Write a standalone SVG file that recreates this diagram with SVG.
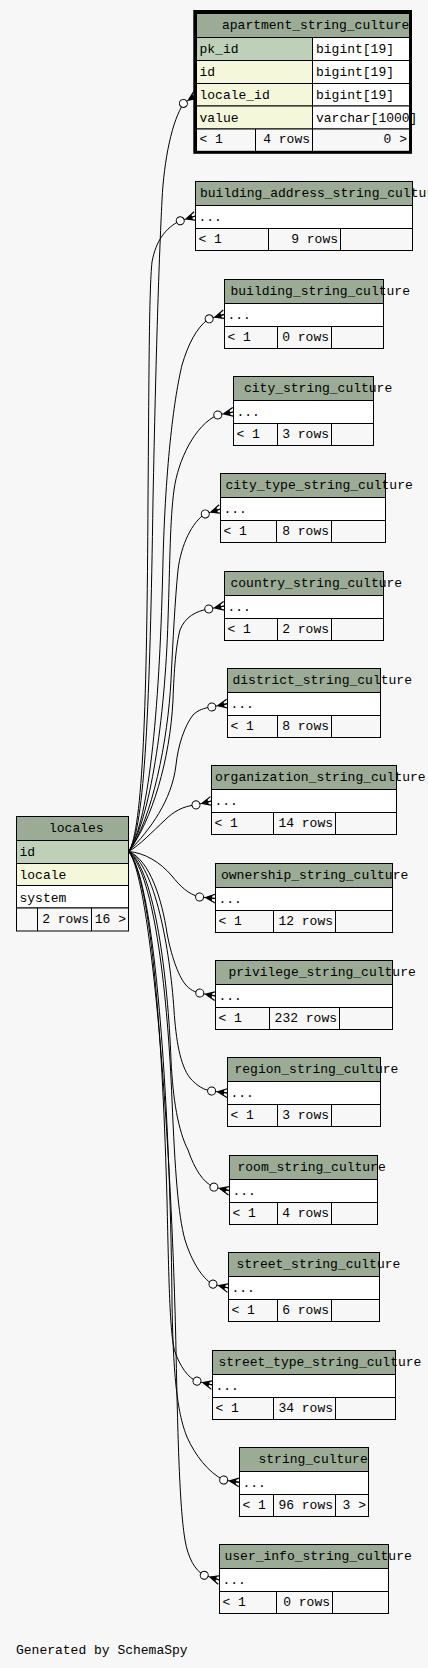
<svg xmlns="http://www.w3.org/2000/svg" width="428" height="1668" viewBox="0 0 428 1668">
<style>
.t{font-family:"Liberation Mono","DejaVu Sans Mono",monospace;font-size:13px;fill:#000}
.e{text-anchor:end}
.c{stroke:#000;stroke-width:1}
.hd{fill:#9bab96}
.pk{fill:#bed1b8}
.ix{fill:#f4f7da}
.wh{fill:#fff}
.ft{fill:#f7f7f7}
.ln{stroke:#000;stroke-width:1}
.edge{fill:none;stroke:#000;stroke-width:1;marker-end:url(#crowodot)}
</style>
<defs>
<marker id="crowodot" markerUnits="userSpaceOnUse" markerWidth="24" markerHeight="12" viewBox="-22 -6 24 12" refX="0" refY="0" orient="auto" overflow="visible">
<path d="M-10,0 L0,-4.5 M-10,0 L0,0 M-10,0 L0,4.5" stroke="#000" stroke-width="1.2" fill="none"/>
<path d="M-10,0 L-3.5,-3 L-3.5,3 Z" fill="#000"/>
<circle cx="-16" cy="0" r="4" fill="#fff" stroke="#000"/>
</marker>
</defs>
<rect x="0" y="0" width="428" height="1668" fill="#f7f7f7"/>

<g id="connectors">
<path class="edge" d="M128.7,851.5 C145,830 150,700 153,500 C156,350 159,260 162,200 C164,160 172,120 184,103 L196.7,94.5"/>
<path class="edge" d="M128.7,851.5 C143,830 147,700 148,500 C149,380 149,290 152,262 C156,240 166,228 179.5,221 L195.5,216"/>
<path class="edge" d="M128.7,851.5 C150,820 160,700 163,560 C166,450 176,390 182,365 C188,345 196,328 208.5,319 L224.5,314.3"/>
<path class="edge" d="M128.7,851.5 C150,820 165,720 168,620 C170,560 170,520 174,490 C178,460 195,425 217.5,415 L233.5,412"/>
<path class="edge" d="M128.7,851.5 C152,820 168,740 171,680 C173,640 175,600 178,570 C181,545 192,522 205,514 L220.5,509"/>
<path class="edge" d="M128.7,851.5 C152,820 170,760 173,700 C174,670 176,645 180,630 C185,617 196,611 208.5,609 L224.5,606"/>
<path class="edge" d="M128.7,851.5 C150,830 172,800 176,765 C178,745 185,725 193,715 C198,710 204,708 211.5,707 L227.5,703.7"/>
<path class="edge" d="M128.7,851.5 C140,845 152,832 165,820 C173,812 183,806 195.5,805 L211.5,801"/>
<path class="edge" d="M128.7,851.5 C145,853 160,862 172,876 C180,886 188,894 199.5,897 L215.5,898.5"/>
<path class="edge" d="M128.7,851.5 C150,860 162,900 167,933 C171,955 178,975 185,984 C190,990 195,992 199.5,993 L215.5,996"/>
<path class="edge" d="M128.7,851.5 C155,865 170,950 174,1010 C176,1040 180,1065 190,1078 C197,1086 204,1090 211.5,1091 L227.5,1093"/>
<path class="edge" d="M128.7,851.5 C155,870 168,980 171,1060 C173,1100 178,1130 188,1150 C195,1170 203,1182 213.5,1187 L229.5,1190.7"/>
<path class="edge" d="M128.7,851.5 C155,875 168,1000 172,1100 C175,1170 178,1215 185,1240 C192,1262 202,1278 212.5,1284 L228.5,1288"/>
<path class="edge" d="M128.7,851.5 C152,880 163,1050 167,1200 C169,1290 170,1335 175,1352 C180,1366 188,1378 196.5,1381 L212.5,1385"/>
<path class="edge" d="M128.7,851.5 C155,880 170,1100 172,1300 C173,1380 178,1415 187,1437 C195,1455 208,1472 223.5,1480 L239.5,1482.3"/>
<path class="edge" d="M128.7,851.5 C152,880 172,1150 176,1350 C178,1450 180,1510 185,1540 C188,1558 195,1570 203.5,1575 L219.5,1580"/>
</g>

<g id="apartment_string_culture">
<rect class="hd c" x="196.5" y="13.5" width="213" height="24"/>
<rect class="pk c" x="196.5" y="37.5" width="116" height="23"/>
<rect class="wh c" x="312.5" y="37.5" width="97" height="23"/>
<rect class="ix c" x="196.5" y="60.5" width="116" height="23"/>
<rect class="wh c" x="312.5" y="60.5" width="97" height="23"/>
<rect class="ix c" x="196.5" y="83.5" width="116" height="22.5"/>
<rect class="wh c" x="312.5" y="83.5" width="97" height="22.5"/>
<rect class="ix c" x="196.5" y="106" width="116" height="23"/>
<rect class="wh c" x="312.5" y="106" width="97" height="23"/>
<rect class="ft c" x="196.5" y="129" width="213" height="23"/>
<line class="ln" x1="255.5" y1="129" x2="255.5" y2="152"/>
<line class="ln" x1="312.5" y1="129" x2="312.5" y2="152"/>
<text class="t" x="222" y="28.5">apartment_string_culture</text>
<text class="t" x="199.5" y="53">pk_id</text>
<text class="t" x="316" y="53">bigint[19]</text>
<text class="t" x="199.5" y="76">id</text>
<text class="t" x="316" y="76">bigint[19]</text>
<text class="t" x="199.5" y="99">locale_id</text>
<text class="t" x="316" y="99">bigint[19]</text>
<text class="t" x="199.5" y="121.5">value</text>
<text class="t" x="316" y="121.5">varchar[1000]</text>
<text class="t" x="199.5" y="143">&lt; 1</text>
<text class="t e" x="310" y="143">4 rows</text>
<text class="t e" x="407" y="143">0 &gt;</text>
<rect x="194.8" y="11.5" width="215.7" height="140.8" fill="none" stroke="#000" stroke-width="3"/>
</g>

<g id="building_address_string_culture">
<rect class="hd c" x="195.5" y="181.5" width="217" height="24"/>
<rect class="wh c" x="195.5" y="205.5" width="217" height="23"/>
<rect class="ft c" x="195.5" y="228.5" width="217" height="22"/>
<line class="ln" x1="268.5" y1="228.5" x2="268.5" y2="250.5"/>
<line class="ln" x1="340.5" y1="228.5" x2="340.5" y2="250.5"/>
<text class="t" x="200" y="196.5">building_address_string_culture</text>
<text class="t" x="198.5" y="221">...</text>
<text class="t" x="198.5" y="242.5">&lt; 1</text>
<text class="t e" x="338" y="242.5">9 rows</text>
</g>

<g id="building_string_culture">
<rect class="hd c" x="224.5" y="279.5" width="159" height="24"/>
<rect class="wh c" x="224.5" y="303.5" width="159" height="23"/>
<rect class="ft c" x="224.5" y="326.5" width="159" height="22"/>
<line class="ln" x1="277.5" y1="326.5" x2="277.5" y2="348.5"/>
<line class="ln" x1="331.5" y1="326.5" x2="331.5" y2="348.5"/>
<text class="t" x="230.5" y="294.5">building_string_culture</text>
<text class="t" x="227.5" y="319">...</text>
<text class="t" x="227.5" y="340.5">&lt; 1</text>
<text class="t e" x="329" y="340.5">0 rows</text>
</g>

<g id="city_string_culture">
<rect class="hd c" x="233.5" y="376.5" width="140" height="24"/>
<rect class="wh c" x="233.5" y="400.5" width="140" height="23"/>
<rect class="ft c" x="233.5" y="423.5" width="140" height="22"/>
<line class="ln" x1="277.5" y1="423.5" x2="277.5" y2="445.5"/>
<line class="ln" x1="331.5" y1="423.5" x2="331.5" y2="445.5"/>
<text class="t" x="244" y="391.5">city_string_culture</text>
<text class="t" x="236.5" y="416">...</text>
<text class="t" x="236.5" y="437.5">&lt; 1</text>
<text class="t e" x="329" y="437.5">3 rows</text>
</g>

<g id="city_type_string_culture">
<rect class="hd c" x="220.5" y="473.5" width="165" height="24"/>
<rect class="wh c" x="220.5" y="497.5" width="165" height="23"/>
<rect class="ft c" x="220.5" y="520.5" width="165" height="22"/>
<line class="ln" x1="276.5" y1="520.5" x2="276.5" y2="542.5"/>
<line class="ln" x1="331.5" y1="520.5" x2="331.5" y2="542.5"/>
<text class="t" x="225.5" y="488.5">city_type_string_culture</text>
<text class="t" x="223.5" y="513">...</text>
<text class="t" x="223.5" y="534.5">&lt; 1</text>
<text class="t e" x="329" y="534.5">8 rows</text>
</g>

<g id="country_string_culture">
<rect class="hd c" x="224.5" y="571.5" width="159" height="24"/>
<rect class="wh c" x="224.5" y="595.5" width="159" height="23"/>
<rect class="ft c" x="224.5" y="618.5" width="159" height="22"/>
<line class="ln" x1="277.5" y1="618.5" x2="277.5" y2="640.5"/>
<line class="ln" x1="331.5" y1="618.5" x2="331.5" y2="640.5"/>
<text class="t" x="230.5" y="586.5">country_string_culture</text>
<text class="t" x="227.5" y="611">...</text>
<text class="t" x="227.5" y="632.5">&lt; 1</text>
<text class="t e" x="329" y="632.5">2 rows</text>
</g>

<g id="district_string_culture">
<rect class="hd c" x="227.5" y="668.5" width="153" height="24"/>
<rect class="wh c" x="227.5" y="692.5" width="153" height="23"/>
<rect class="ft c" x="227.5" y="715.5" width="153" height="22"/>
<line class="ln" x1="277.5" y1="715.5" x2="277.5" y2="737.5"/>
<line class="ln" x1="331.5" y1="715.5" x2="331.5" y2="737.5"/>
<text class="t" x="232.5" y="683.5">district_string_culture</text>
<text class="t" x="230.5" y="708">...</text>
<text class="t" x="230.5" y="729.5">&lt; 1</text>
<text class="t e" x="329" y="729.5">8 rows</text>
</g>

<g id="organization_string_culture">
<rect class="hd c" x="211.5" y="765.5" width="185" height="24"/>
<rect class="wh c" x="211.5" y="789.5" width="185" height="23"/>
<rect class="ft c" x="211.5" y="812.5" width="185" height="22"/>
<line class="ln" x1="273.5" y1="812.5" x2="273.5" y2="834.5"/>
<line class="ln" x1="335.5" y1="812.5" x2="335.5" y2="834.5"/>
<text class="t" x="215" y="780.5">organization_string_culture</text>
<text class="t" x="214.5" y="805">...</text>
<text class="t" x="214.5" y="826.5">&lt; 1</text>
<text class="t e" x="333" y="826.5">14 rows</text>
</g>

<g id="locales">
<rect class="hd c" x="16.5" y="816.5" width="112" height="24"/>
<rect class="pk c" x="16.5" y="840.5" width="112" height="23"/>
<rect class="ix c" x="16.5" y="863.5" width="112" height="22"/>
<rect class="wh c" x="16.5" y="885.5" width="112" height="22.5"/>
<rect class="ft c" x="16.5" y="908" width="112" height="23"/>
<line class="ln" x1="37.5" y1="908" x2="37.5" y2="931"/>
<line class="ln" x1="91.5" y1="908" x2="91.5" y2="931"/>
<text class="t" x="49" y="831.5">locales</text>
<text class="t" x="19.5" y="856">id</text>
<text class="t" x="19.5" y="879">locale</text>
<text class="t" x="19.5" y="901.5">system</text>
<text class="t e" x="89" y="922.5">2 rows</text>
<text class="t e" x="126" y="922.5">16 &gt;</text>
</g>

<g id="ownership_string_culture">
<rect class="hd c" x="215.5" y="863.5" width="177" height="24"/>
<rect class="wh c" x="215.5" y="887.5" width="177" height="23"/>
<rect class="ft c" x="215.5" y="910.5" width="177" height="22"/>
<line class="ln" x1="273.5" y1="910.5" x2="273.5" y2="932.5"/>
<line class="ln" x1="335.5" y1="910.5" x2="335.5" y2="932.5"/>
<text class="t" x="221" y="878.5">ownership_string_culture</text>
<text class="t" x="218.5" y="903">...</text>
<text class="t" x="218.5" y="924.5">&lt; 1</text>
<text class="t e" x="333" y="924.5">12 rows</text>
</g>

<g id="privilege_string_culture">
<rect class="hd c" x="215.5" y="960.5" width="177" height="24"/>
<rect class="wh c" x="215.5" y="984.5" width="177" height="23"/>
<rect class="ft c" x="215.5" y="1007.5" width="177" height="22"/>
<line class="ln" x1="269.5" y1="1007.5" x2="269.5" y2="1029.5"/>
<line class="ln" x1="339.5" y1="1007.5" x2="339.5" y2="1029.5"/>
<text class="t" x="228.5" y="975.5">privilege_string_culture</text>
<text class="t" x="218.5" y="1000">...</text>
<text class="t" x="218.5" y="1021.5">&lt; 1</text>
<text class="t e" x="337" y="1021.5">232 rows</text>
</g>

<g id="region_string_culture">
<rect class="hd c" x="227.5" y="1057.5" width="153" height="24"/>
<rect class="wh c" x="227.5" y="1081.5" width="153" height="23"/>
<rect class="ft c" x="227.5" y="1104.5" width="153" height="22"/>
<line class="ln" x1="277.5" y1="1104.5" x2="277.5" y2="1126.5"/>
<line class="ln" x1="331.5" y1="1104.5" x2="331.5" y2="1126.5"/>
<text class="t" x="234.5" y="1072.5">region_string_culture</text>
<text class="t" x="230.5" y="1097">...</text>
<text class="t" x="230.5" y="1118.5">&lt; 1</text>
<text class="t e" x="329" y="1118.5">3 rows</text>
</g>

<g id="room_string_culture">
<rect class="hd c" x="229.5" y="1155.5" width="148" height="24"/>
<rect class="wh c" x="229.5" y="1179.5" width="148" height="23"/>
<rect class="ft c" x="229.5" y="1202.5" width="148" height="22"/>
<line class="ln" x1="277.5" y1="1202.5" x2="277.5" y2="1224.5"/>
<line class="ln" x1="331.5" y1="1202.5" x2="331.5" y2="1224.5"/>
<text class="t" x="237.5" y="1170.5">room_string_culture</text>
<text class="t" x="232.5" y="1195">...</text>
<text class="t" x="232.5" y="1216.5">&lt; 1</text>
<text class="t e" x="329" y="1216.5">4 rows</text>
</g>

<g id="street_string_culture">
<rect class="hd c" x="228.5" y="1252.5" width="151" height="24"/>
<rect class="wh c" x="228.5" y="1276.5" width="151" height="23"/>
<rect class="ft c" x="228.5" y="1299.5" width="151" height="22"/>
<line class="ln" x1="277.5" y1="1299.5" x2="277.5" y2="1321.5"/>
<line class="ln" x1="331.5" y1="1299.5" x2="331.5" y2="1321.5"/>
<text class="t" x="236.5" y="1267.5">street_string_culture</text>
<text class="t" x="231.5" y="1292">...</text>
<text class="t" x="231.5" y="1313.5">&lt; 1</text>
<text class="t e" x="329" y="1313.5">6 rows</text>
</g>

<g id="street_type_string_culture">
<rect class="hd c" x="212.5" y="1350.5" width="183" height="24"/>
<rect class="wh c" x="212.5" y="1374.5" width="183" height="23"/>
<rect class="ft c" x="212.5" y="1397.5" width="183" height="22"/>
<line class="ln" x1="273.5" y1="1397.5" x2="273.5" y2="1419.5"/>
<line class="ln" x1="335.5" y1="1397.5" x2="335.5" y2="1419.5"/>
<text class="t" x="218.5" y="1365.5">street_type_string_culture</text>
<text class="t" x="215.5" y="1390">...</text>
<text class="t" x="215.5" y="1411.5">&lt; 1</text>
<text class="t e" x="333" y="1411.5">34 rows</text>
</g>

<g id="string_culture">
<rect class="hd c" x="239.5" y="1447.5" width="129" height="24"/>
<rect class="wh c" x="239.5" y="1471.5" width="129" height="23"/>
<rect class="ft c" x="239.5" y="1494.5" width="129" height="22"/>
<line class="ln" x1="273.5" y1="1494.5" x2="273.5" y2="1516.5"/>
<line class="ln" x1="335.5" y1="1494.5" x2="335.5" y2="1516.5"/>
<text class="t" x="258.5" y="1462.5">string_culture</text>
<text class="t" x="242.5" y="1487">...</text>
<text class="t" x="242.5" y="1508.5">&lt; 1</text>
<text class="t e" x="333" y="1508.5">96 rows</text>
<text class="t e" x="366" y="1508.5">3 &gt;</text>
</g>

<g id="user_info_string_culture">
<rect class="hd c" x="219.5" y="1544.5" width="169" height="24"/>
<rect class="wh c" x="219.5" y="1568.5" width="169" height="23"/>
<rect class="ft c" x="219.5" y="1591.5" width="169" height="22"/>
<line class="ln" x1="276.5" y1="1591.5" x2="276.5" y2="1613.5"/>
<line class="ln" x1="332.5" y1="1591.5" x2="332.5" y2="1613.5"/>
<text class="t" x="224.5" y="1559.5">user_info_string_culture</text>
<text class="t" x="222.5" y="1584">...</text>
<text class="t" x="222.5" y="1605.5">&lt; 1</text>
<text class="t e" x="330" y="1605.5">0 rows</text>
</g>

<text class="t" x="16" y="1654">Generated by SchemaSpy</text>
</svg>
